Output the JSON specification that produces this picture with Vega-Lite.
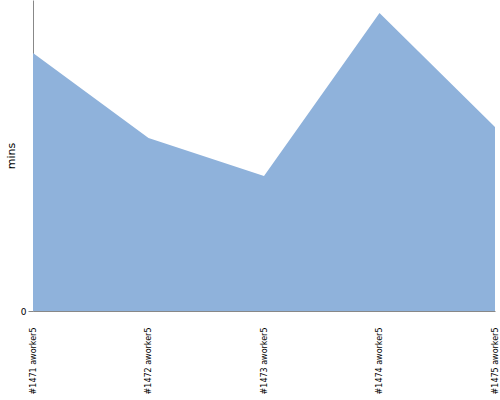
{
  "$schema": "https://vega.github.io/schema/vega-lite/v6.json",
  "width": 462,
  "height": 311,
  "autosize": {"type": "none"},
  "padding": {"left": 33, "top": 0, "right": 5, "bottom": 89},
  "background": "white",
  "config": {"view": {"stroke": null}},
  "data": {"values": [
    {"build": "#1471 aworker5", "mins": 258},
    {"build": "#1472 aworker5", "mins": 173},
    {"build": "#1473 aworker5", "mins": 135},
    {"build": "#1474 aworker5", "mins": 298},
    {"build": "#1475 aworker5", "mins": 184}
  ]},
  "mark": {"type": "area", "color": "#8fb2db", "opacity": 1, "line": false},
  "encoding": {
    "x": {"field": "build", "type": "ordinal", "scale": {"type": "point", "padding": 0},
      "axis": {"title": null, "labelAngle": -90, "labelFont": "DejaVu Sans", "labelFontSize": 8, "labelColor": "#000", "ticks": false, "labelPadding": 16, "domainColor": "#888", "grid": false}},
    "y": {"field": "mins", "type": "quantitative", "scale": {"domain": [0, 311], "nice": false},
      "axis": {"title": "mins", "values": [0], "grid": false, "labelFont": "DejaVu Sans", "labelFontSize": 9, "labelColor": "#000", "tickColor": "#888", "tickSize": 5, "domainColor": "#888", "titleFont": "DejaVu Sans", "titleFontSize": 11, "titleFontWeight": "normal", "titleColor": "#000", "titlePadding": 4}}
  }
}
